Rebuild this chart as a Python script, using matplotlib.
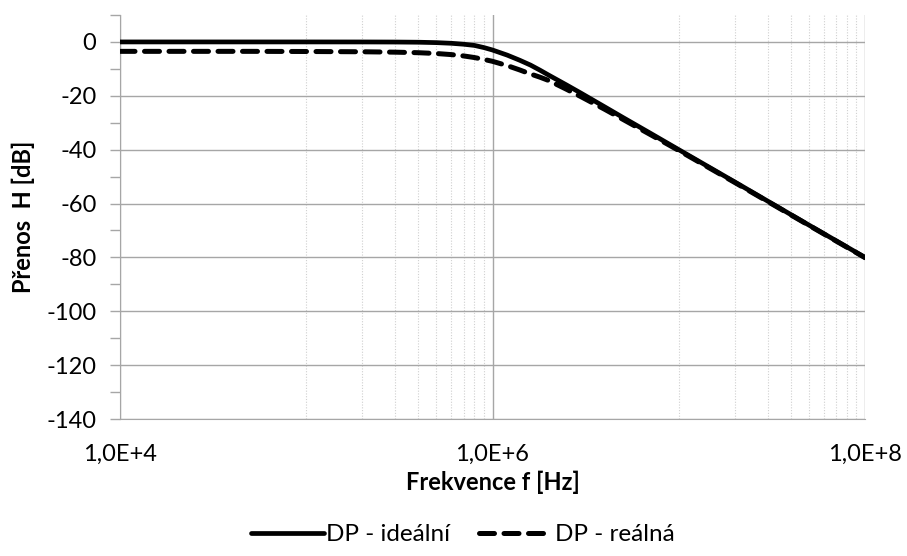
import numpy as np
import matplotlib
matplotlib.use("Agg")
import matplotlib.pyplot as plt
from matplotlib.ticker import FixedLocator, FuncFormatter, NullFormatter, MultipleLocator

plt.rcParams['font.family'] = ['Lato', 'DejaVu Sans']
plt.rcParams['axes.unicode_minus'] = False

# frekvence [Hz] a prenos [dB]
freq = [1e4, 2e4, 5e4, 1e5, 2e5, 3e5, 4e5, 5e5, 6e5, 7e5, 8e5, 9e5, 1e6, 1.2e6, 1.4e6, 1.6e6,
        1.8e6, 2e6, 2.5e6, 3e6, 4e6, 5e6, 7e6, 1e7, 2e7, 5e7, 1e8]
H_ideal = [0.0, 0.0, 0.0, 0.0, -0.01, -0.04, -0.11, -0.26, -0.5, -0.85, -1.3, -2.1, -3.0, -4.9,
           -6.8, -8.6, -10.5, -12.3, -16.0, -19.1, -24.1, -28.0, -33.8, -40.0, -52.0, -68.0, -80.0]
H_real = [-3.5, -3.5, -3.5, -3.55, -3.65, -3.8, -4.0, -4.3, -4.7, -5.2, -5.8, -6.5, -7.2, -8.8,
          -10.4, -11.9, -13.1, -14.3, -17.6, -20.4, -25.0, -28.7, -34.3, -40.3, -52.2, -68.1, -80.1]

labels = ["DP - ideální", "DP - reálná"]
x_major = [1e4, 1e6, 1e8]
# vedlejsi mrizka jen tam, kde je v puvodnim grafu
x_minor = [1e5, 2e5, 3e5, 4e5, 5e5, 6e5, 7e5, 8e5, 9e5,
           1e7, 2e7, 3e7, 4e7, 5e7, 6e7, 7e7, 8e7, 9e7]

fig = plt.figure(figsize=(9.07, 5.56), dpi=100)
ax = fig.add_axes([120/907, 1-419/556, (865-120)/907, (419-15)/556])

ax.set_xscale("log")
ax.set_xlim(1e4, 1e8)
ax.set_ylim(-140, 10)

ax.plot(freq, H_ideal, color="black", lw=3.4, solid_capstyle="round", solid_joinstyle="round",
        label=labels[0], zorder=3)
ax.plot(freq, H_real, color="black", lw=3.6, dashes=(3.0, 1.9), dash_capstyle="round",
        dash_joinstyle="round", label=labels[1], zorder=3)

# mrizka
ax.xaxis.set_major_locator(FixedLocator(x_major))
ax.xaxis.set_minor_locator(FixedLocator(x_minor))
ax.xaxis.set_minor_formatter(NullFormatter())
ax.xaxis.set_major_formatter(FuncFormatter(lambda v, p: "1,0E+%d" % round(np.log10(v))))
ax.yaxis.set_major_locator(FixedLocator(np.arange(-140, 1, 20)))
ax.yaxis.set_major_formatter(FuncFormatter(lambda v, p: "%d" % round(v)))
ax.yaxis.set_minor_locator(MultipleLocator(10))

ax.grid(which="major", axis="both", color="#a6a6a6", lw=1.0, ls="-")
ax.grid(which="minor", axis="x", color="#d0d0d0", lw=0.8, ls=(0, (1, 1.5)))
ax.set_axisbelow(True)

for s in ["top", "right"]:
    ax.spines[s].set_visible(False)
ax.spines["left"].set_color("#a6a6a6")
ax.spines["bottom"].set_color("#a6a6a6")

ax.tick_params(axis="x", which="both", length=0, pad=18, labelsize=17)
ax.tick_params(axis="y", which="both", length=7, color="#a6a6a6", width=1, labelsize=17, pad=10)

ax.set_xlabel("Frekvence f [Hz]", fontsize=17, fontweight="bold", labelpad=4)
ax.set_ylabel("Přenos  H [dB]", fontsize=17, fontweight="bold", labelpad=8)

fig.legend(loc="lower center", bbox_to_anchor=(0.51, -0.02), ncol=2, frameon=False,
           fontsize=17.5, handlelength=3.0, handletextpad=0.1, columnspacing=1.2)

fig.savefig("out.png", dpi=100)
